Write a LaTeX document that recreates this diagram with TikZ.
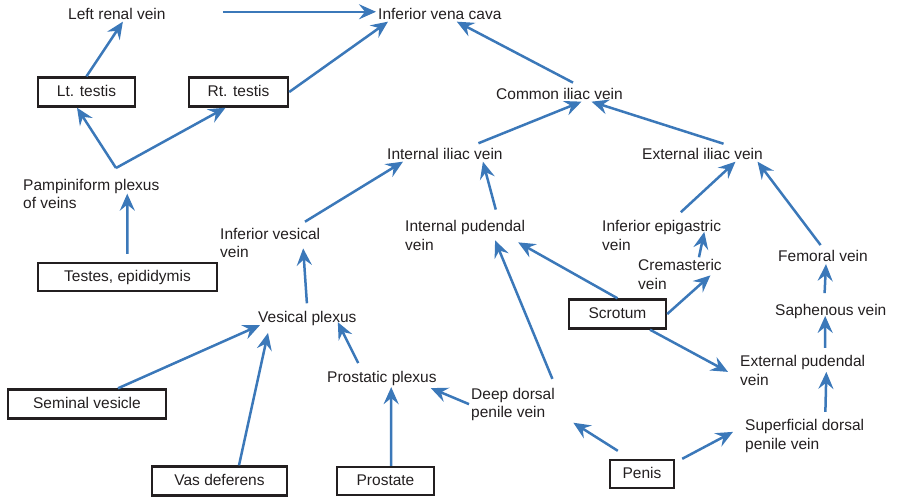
\documentclass[tikz,border=0pt]{standalone}
\usepackage{fontspec}
\setmainfont{Liberation Sans}
\usetikzlibrary{arrows.meta}

\definecolor{veinblue}{RGB}{59,120,185}
\definecolor{inkgray}{RGB}{35,31,32}

\tikzset{
  vein/.style={draw=veinblue, line width=2.5pt, -{Stealth[length=17pt,width=15pt,inset=6pt]}},
  lbl/.style={font=\fontsize{15.5}{18.3}\selectfont, text=inkgray, inner sep=2pt, align=left, anchor=base west},
  organ/.style={draw=inkgray, line width=2.4pt, font=\fontsize{15.5}{18.3}\selectfont, text=inkgray,
                inner sep=0pt, text height=11.5pt, text depth=3.5pt, minimum height=29pt},
}

\begin{document}
\begin{tikzpicture}[x=1pt, y=-1pt]
\useasboundingbox (0,0) rectangle (897,499);

% Top row
\node[lbl] (lrv) at (66,19.3) {Left renal vein};
\node[lbl] (ivc) at (376,19.3) {Inferior vena cava};

% Testes (two-line labels sit on their last baseline)
\node[organ, minimum width=97pt] (ltt) at (86.5,92) {Lt. testis};
\node[organ, minimum width=99pt] (rtt) at (238.5,92) {Rt. testis};
\node[lbl] (ppv) at (21,208.3) {Pampiniform plexus\\of veins};
\coordinate (fork) at (116,168);
\node[organ, minimum width=179pt, minimum height=28pt] (tep) at (127.5,277) {Testes, epididymis};

% Iliac veins
\node[lbl] (civ) at (494,99.3) {Common iliac vein};
\node[lbl] (iil) at (385,159.3) {Internal iliac vein};
\node[lbl] (eiv) at (640,159.3) {External iliac vein};

% Tributaries
\node[lbl] (ivv) at (218,257.6) {Inferior vesical\\vein};
\node[lbl] (ipv) at (403,250) {Internal pudendal\\vein};
\node[lbl] (iev) at (600,250) {Inferior epigastric\\vein};
\node[lbl] (crv) at (636,289) {Cremasteric\\vein};
\node[lbl] (fev) at (776,261.7) {Femoral vein};
\node[lbl] (sav) at (773,315) {Saphenous vein};
\node[lbl] (epv) at (738,385) {External pudendal\\vein};
\node[lbl] (sdv) at (743,449) {Superficial dorsal\\penile vein};
\node[lbl] (ddv) at (469,417.3) {Deep dorsal\\penile vein};
\node[lbl] (vsp) at (256,322.7) {Vesical plexus};
\node[lbl] (prp) at (325,382.7) {Prostatic plexus};

% Organs below
\node[organ, minimum width=97pt] (scr) at (617.5,314) {Scrotum};
\node[organ, minimum width=158pt] (sev) at (87,404) {Seminal vesicle};
\node[organ, minimum width=135pt] (vad) at (219.5,481) {Vas deferens};
\node[organ, minimum width=97pt, minimum height=28pt] (pro) at (385.5,481) {Prostate};
\node[organ, minimum width=64pt, minimum height=28pt] (pen) at (642,474) {Penis};

% Testicular drainage
\draw[vein, shorten <=55pt] ([yshift=2pt]lrv.east) -- ([yshift=2pt]ivc.west);
\draw[vein] (ltt.north) -- ([xshift=6pt]lrv.south);
\draw[vein] (rtt.east) -- ([xshift=12pt]ivc.south west);
\draw[vein] (fork) -- ([xshift=-9.5pt]ltt.south);
\draw[vein] (fork) -- ([xshift=-13pt]rtt.south);
\draw[vein, shorten <=8pt] (tep.north) -- ([xshift=36pt,yshift=17pt]ppv.south);

% Iliac system
\draw[vein, shorten <=7pt] ([xshift=19.7pt]civ.north) -- ([xshift=17pt]ivc.south);
\draw[vein, shorten <=7pt] ([xshift=27pt]iil.north) -- ([xshift=22pt]civ.south);
\draw[vein, shorten <=7pt] ([xshift=27.7pt]eiv.north) -- ([xshift=32pt]civ.south);
\draw[vein, shorten <=8pt] ([xshift=28pt]ivv.north) -- ([xshift=18pt]iil.south west);
\draw[vein, shorten <=9pt] ([xshift=33pt]ipv.north) -- ([xshift=38pt]iil.south);
\draw[vein, shorten <=9pt] ([xshift=12.6pt]iev.north) -- ([xshift=33pt]eiv.south);
\draw[vein, shorten <=4pt] (fev.north) -- ([xshift=55pt]eiv.south);
\draw[vein] ([xshift=19pt]crv.north) -- ([xshift=-19pt,yshift=-13.6pt]iev.north east);

% Scrotum
\draw[vein] (scr.north) -- ([xshift=-9pt,yshift=10pt]ipv.south east);
\draw[vein] (scr.east) -- ([xshift=-13.5pt,yshift=16pt]crv.south east);
\draw[vein] ([xshift=32.5pt]scr.south) -- ([xshift=-10pt,yshift=-18.6pt]epv.north west);

% Leg veins
\draw[vein, shorten <=8.5pt] ([xshift=-6.6pt]sav.north) -- ([xshift=3pt]fev.south);
\draw[vein, shorten <=5.4pt] ([xshift=22.5pt]epv.north) -- ([xshift=-5.6pt,yshift=4.5pt]sav.south);
\draw[vein, shorten <=5.4pt] ([xshift=20.6pt]sdv.north) -- ([xshift=-41pt,yshift=-18.6pt]epv.north east);

% Penis
\draw[vein] ([xshift=7pt]pen.north east) -- ([xshift=-10pt,yshift=-14.6pt]sdv.north west);
\draw[vein] ([xshift=9pt,yshift=8pt]pen.north west) -- ([xshift=16.4pt]ddv.south east);
\draw[vein] ([xshift=-4.6pt,yshift=6.7pt]ddv.north east) -- ([xshift=30pt,yshift=12pt]ipv.south);
\draw[vein] (ddv.west) -- ([xshift=-8pt]prp.south east);

% Pelvic plexuses
\draw[vein] ([xshift=5.5pt]pro.north) -- ([xshift=9.3pt,yshift=1pt]prp.south);
\draw[vein] ([xshift=-23.7pt,yshift=6.2pt]prp.north) -- ([xshift=30.5pt,yshift=6pt]vsp.south);
\draw[vein, shorten <=6pt] (vsp.north) -- ([xshift=33pt,yshift=11.6pt]ivv.south);
\draw[vein] ([xshift=31pt]sev.north) -- ([xshift=4pt,yshift=3pt]vsp.south west);
\draw[vein] ([xshift=19.5pt]vad.north) -- ([xshift=12pt,yshift=-4.8pt]vsp.south west);

\end{tikzpicture}
\end{document}
